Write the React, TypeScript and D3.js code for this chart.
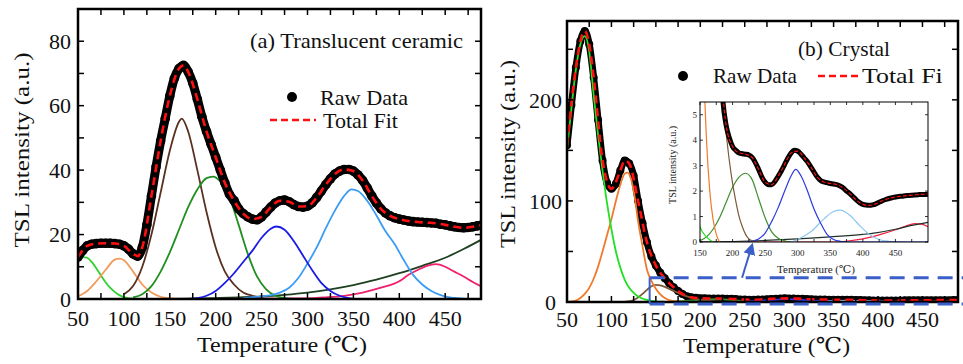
import React from "react";
import * as d3 from "d3";

type P = [number, number];

const FONT = "'Liberation Serif', 'Times New Roman', 'DejaVu Serif', serif";

// ---------- (a) Translucent ceramic ----------
const leftRaw: P[] = [
  [50, 13], [55, 15], [60, 16.5], [65, 17], [70, 17.2], [75, 17.3], [80, 17.3], [85, 17.3], [90, 17.2], [95, 17],
  [100, 16.5], [105, 15.5], [110, 14], [115, 13.3], [120, 16], [125, 23], [130, 32], [135, 41], [140, 49], [145, 56],
  [150, 63], [155, 68.5], [160, 71.5], [165, 72.5], [170, 70.5], [175, 67], [180, 62], [185, 56.5], [190, 52], [195, 48],
  [200, 44], [205, 40], [210, 36], [215, 32.5], [220, 30.5], [225, 28], [230, 26.5], [235, 25.5], [240, 24.8], [245, 24.6],
  [250, 25.5], [255, 27], [260, 28.5], [265, 29.8], [270, 30.5], [275, 30.7], [280, 30.2], [285, 29.3], [290, 28.7], [295, 28.5],
  [300, 28.8], [305, 29.8], [310, 31.5], [315, 33.5], [320, 35.5], [325, 37.3], [330, 38.8], [335, 39.7], [340, 40.2], [345, 40.2],
  [350, 39.7], [355, 38.5], [360, 36.8], [365, 34.5], [370, 32], [375, 29.8], [380, 28], [385, 26.7], [390, 25.8], [395, 25.2],
  [400, 24.8], [405, 24.5], [410, 24.2], [415, 24], [420, 23.9], [425, 23.8], [430, 23.7], [435, 23.6], [440, 23.5], [445, 23.2],
  [450, 23], [455, 22.7], [460, 22.4], [465, 22.2], [470, 22.1], [475, 22.2], [480, 22.4], [485, 22.7], [490, 23],
];
const leftFit: P[] = [
  [50, 13], [60, 16.5], [70, 17.2], [80, 17.3], [90, 17.2], [100, 16.5], [110, 14], [115, 13.3], [120, 16], [130, 32],
  [140, 49], [150, 63], [160, 71.5], [165, 72.5], [170, 70.5], [180, 62], [190, 52], [200, 44], [210, 36], [220, 30.5],
  [230, 26.5], [240, 24.8], [250, 25.5], [260, 28.5], [270, 30.5], [280, 30.2], [290, 28.7], [300, 28.8], [310, 31.5], [320, 35.5],
  [330, 38.8], [340, 40.2], [350, 39.7], [360, 36.8], [370, 32], [380, 28], [390, 25.8], [400, 24.8], [410, 24.2], [420, 23.9],
  [430, 23.7], [440, 23.5], [450, 23], [460, 22.4], [470, 22.1], [480, 22.4], [490, 23],
];
const leftLime: P[] = [
  [50, 12], [55, 13], [60, 12.8], [65, 11.5], [70, 9.5], [75, 7.3], [80, 5.2], [85, 3.5], [90, 2.2], [95, 1.2],
  [100, 0.6], [110, 0.1], [120, 0],
];
const leftOrange: P[] = [
  [50, 0.8], [60, 2.5], [70, 5.5], [80, 9], [90, 12.2], [95, 12.5], [100, 12], [110, 8.5], [120, 4.5], [130, 2],
  [140, 0.7], [150, 0.2], [160, 0],
];
const leftBrown: P[] = [
  [100, 1.5], [110, 4], [120, 10], [130, 20], [140, 33], [150, 46], [160, 55], [163, 56], [170, 52], [180, 40],
  [190, 27], [200, 16], [210, 8.5], [220, 4.5], [230, 2], [240, 1], [250, 0.3], [260, 0],
];
const leftGreen: P[] = [
  [110, 0.5], [120, 1.5], [130, 4], [140, 8.5], [150, 14.5], [160, 21.5], [170, 28.5], [180, 34], [190, 37.5], [197, 38],
  [205, 36.5], [215, 31.5], [225, 23], [235, 14], [245, 7], [255, 3], [265, 1], [275, 0.3], [290, 0],
];
const leftBlue: P[] = [
  [170, 0], [180, 0.3], [190, 1], [200, 2.5], [210, 5], [220, 8], [230, 11.5], [240, 15], [250, 19], [260, 21.8],
  [266, 22.5], [275, 21.5], [285, 18], [295, 13.5], [305, 9], [315, 5], [325, 2.5], [335, 1], [345, 0.3], [355, 0], [490, 0],
];
const leftLightBlue: P[] = [
  [230, 0.3], [250, 0.8], [260, 1.2], [270, 2], [280, 3.5], [290, 6.5], [300, 11], [310, 16], [320, 22], [330, 27.5],
  [340, 32], [348, 34], [355, 33.5], [365, 30.5], [375, 26], [385, 21], [395, 17], [405, 12], [415, 7.5], [425, 4.5],
  [435, 2.5], [445, 1.2], [455, 0.5], [465, 0.2], [480, 0], [490, 0],
];
const leftPink: P[] = [
  [200, 0], [300, 0.2], [320, 0.5], [340, 1], [360, 2], [380, 3.5], [400, 5.5], [410, 7.5], [420, 9], [430, 10.3],
  [440, 10.8], [450, 10], [460, 8.5], [470, 7], [480, 5.3], [490, 3.8],
];
const leftBackground: P[] = [
  [150, 0], [200, 0.3], [225, 0.5], [250, 0.8], [275, 1.3], [300, 2], [325, 3], [350, 4.3], [375, 6], [400, 8],
  [425, 10.3], [450, 12.8], [470, 15.5], [490, 18.5],
];

// ---------- (b) Crystal ----------
const rightRaw: P[] = [
  [50, 155], [55, 195], [60, 232], [65, 258], [70, 268], [75, 255], [80, 222], [85, 180], [90, 140], [95, 118],
  [100, 112], [105, 117], [110, 130], [115, 140], [120, 137], [125, 125], [130, 100], [135, 78], [140, 59], [145, 45],
  [150, 36], [155, 29], [160, 23.5], [165, 18.5], [170, 14.5], [175, 11], [180, 8], [185, 5.6], [190, 4.6], [195, 4.1],
  [200, 3.75], [205, 3.6], [210, 3.5], [215, 3.47], [220, 3.45], [225, 3.42], [230, 3.32], [235, 3.12], [240, 2.85], [245, 2.55],
  [250, 2.35], [255, 2.25], [260, 2.25], [265, 2.38], [270, 2.58], [275, 2.8], [280, 3.05], [285, 3.3], [290, 3.5], [295, 3.6],
  [300, 3.57], [305, 3.45], [310, 3.3], [315, 3.15], [320, 2.95], [325, 2.75], [330, 2.55], [335, 2.42], [340, 2.36], [345, 2.33],
  [350, 2.3], [355, 2.28], [360, 2.25], [365, 2.2], [370, 2.12], [375, 2.0], [380, 1.9], [385, 1.78], [390, 1.65], [395, 1.55],
  [400, 1.48], [405, 1.45], [410, 1.44], [415, 1.46], [420, 1.5], [425, 1.56], [430, 1.62], [435, 1.67], [440, 1.71], [445, 1.74],
  [450, 1.77], [455, 1.79], [460, 1.8], [465, 1.82], [470, 1.83], [475, 1.84], [480, 1.85], [485, 1.86], [490, 1.87], [495, 1.87],
  [500, 1.88],
];
const rightFit: P[] = [
  [50, 155], [60, 232], [65, 258], [70, 268], [75, 255], [80, 222], [90, 140], [100, 112], [110, 130], [115, 140],
  [120, 137], [130, 100], [140, 59], [150, 36], [160, 23.5], [170, 14.5], [180, 8], [190, 4.6], [200, 3.75], [210, 3.5],
  [220, 3.45], [230, 3.32], [240, 2.85], [250, 2.35], [260, 2.25], [270, 2.58], [280, 3.05], [290, 3.5], [300, 3.57], [310, 3.3],
  [320, 2.95], [330, 2.55], [340, 2.36], [350, 2.3], [360, 2.25], [370, 2.12], [380, 1.9], [390, 1.65], [400, 1.48], [410, 1.44],
  [420, 1.5], [430, 1.62], [440, 1.71], [450, 1.77], [460, 1.8], [470, 1.83], [480, 1.85], [490, 1.87], [500, 1.88],
];
const rightLime: P[] = [
  [50, 150], [55, 192], [60, 230], [65, 255], [70, 263], [75, 248], [80, 205], [85, 165], [90, 130], [95, 98],
  [100, 72], [105, 50], [110, 34], [115, 22], [120, 14], [125, 9], [130, 5.5], [140, 2], [150, 0.6], [160, 0.2], [170, 0],
];
const rightOrange: P[] = [
  [50, 0], [60, 1.5], [65, 4], [70, 8], [75, 14], [80, 23], [85, 35], [90, 50], [95, 66], [100, 82],
  [105, 100], [110, 116], [115, 127], [118, 128], [122, 122], [126, 105], [130, 80], [135, 55], [140, 32], [145, 21],
  [150, 13], [155, 7.5], [160, 4], [165, 2], [170, 0.9], [175, 0.3], [180, 0],
];
const rightBrown: P[] = [
  [115, 0], [120, 0.8], [125, 2], [130, 4.5], [135, 8], [140, 12], [145, 15.5], [150, 17], [155, 16.5], [160, 15],
  [165, 13], [170, 11], [175, 9], [180, 7], [185, 5.5], [190, 4.3], [195, 3.2], [200, 2.3], [205, 1.6], [210, 1],
  [215, 0.6], [220, 0.3], [225, 0.12], [230, 0.05], [240, 0],
];
const rightOlive: P[] = [
  [150, 0.05], [160, 0.2], [170, 0.5], [180, 0.95], [190, 1.55], [200, 2.15], [210, 2.55], [220, 2.7], [230, 2.45], [240, 1.7],
  [250, 0.95], [260, 0.4], [270, 0.15], [280, 0.05], [290, 0],
];
const rightBlue: P[] = [
  [220, 0], [230, 0.03], [240, 0.12], [250, 0.35], [260, 0.8], [270, 1.35], [280, 2], [290, 2.6], [297, 2.85], [305, 2.6],
  [315, 2], [325, 1.3], [335, 0.75], [345, 0.3], [355, 0.1], [365, 0.03], [380, 0], [500, 0],
];
const rightLightBlue: P[] = [
  [290, 0], [300, 0.1], [320, 0.4], [340, 0.9], [355, 1.2], [365, 1.25], [380, 1.05], [395, 0.65], [410, 0.3], [425, 0.1],
  [440, 0.03], [460, 0],
];
const rightBackground: P[] = [
  [150, 0], [200, 0.02], [250, 0.06], [300, 0.12], [320, 0.15], [350, 0.2], [400, 0.3], [420, 0.36], [450, 0.5], [475, 0.65],
  [500, 0.77],
];
const rightRed: P[] = [
  [50, 0], [350, 0], [370, 0.02], [390, 0.08], [410, 0.18], [430, 0.32], [450, 0.48], [465, 0.62], [480, 0.72], [490, 0.7],
  [500, 0.6],
];

// zoom window (data coords of panel b) and ticks
const zoomWindow = { x0: 143, y0: 0, y1: 24 };
const leftXLabels = [50, 100, 150, 200, 250, 300, 350, 400, 450];
const leftYLabels = [0, 20, 40, 60, 80];
const rightXLabels = [50, 100, 150, 200, 250, 300, 350, 400, 450];
const rightYLabels = [0, 100, 200];
const insetXLabels = [150, 200, 250, 300, 350, 400, 450];
const insetYLabels = [0, 1, 2, 3, 4, 5];

const W = 963;
const H = 364;

const xL = d3.scaleLinear().domain([50, 489]).range([78, 481]);
const yL = d3.scaleLinear().domain([0, 90]).range([299, 9]);
const xR = d3.scaleLinear().domain([50, 490]).range([567, 958]);
const yR = d3.scaleLinear().domain([0, 278]).range([302, 21]);
const xI = d3.scaleLinear().domain([150, 500]).range([700, 928]);
const yI = d3.scaleLinear().domain([0, 5.5]).range([242, 102]);

type S = d3.ScaleLinear<number, number>;

function path(x: S, y: S, data: P[]) {
  return (
    d3
      .line<P>()
      .x((d) => x(d[0]))
      .y((d) => y(d[1]))
      .curve(d3.curveMonotoneX)(data) || ""
  );
}

function Frame({ x, y, xt, yt, len, sw, tsw }: { x: S; y: S; xt: number[]; yt: number[]; len: number; sw: number; tsw: number }) {
  const [x0, x1] = x.range();
  const [y0, y1] = y.range();
  return (
    <g>
      <rect x={x0} y={y1} width={x1 - x0} height={y0 - y1} fill="none" stroke="#000" strokeWidth={sw} />
      <g stroke="#000" strokeWidth={tsw}>
        {xt.map((t) => (
          <g key={"x" + t}>
            <line x1={x(t)} x2={x(t)} y1={y0} y2={y0 - len} />
            <line x1={x(t)} x2={x(t)} y1={y1} y2={y1 + len} />
          </g>
        ))}
        {yt.map((t) => (
          <g key={"y" + t}>
            <line x1={x0} x2={x0 + len} y1={y(t)} y2={y(t)} />
            <line x1={x1} x2={x1 - len} y1={y(t)} y2={y(t)} />
          </g>
        ))}
      </g>
    </g>
  );
}

export default function App() {
  const comp = (x: S, y: S, data: P[], color: string, w = 1.8, key?: string) => (
    <path key={key} d={path(x, y, data)} fill="none" stroke={color} strokeWidth={w} />
  );
  const fitDash = "8 5";

  const leftComponents: [P[], string][] = [
    [leftBackground, "#1e4020"],
    [leftPink, "#f0206e"],
    [leftLime, "#2ed12e"],
    [leftOrange, "#f29a5a"],
    [leftBrown, "#5a3020"],
    [leftGreen, "#1f8f1f"],
    [leftLightBlue, "#3a9cf5"],
    [leftBlue, "#1a1ae6"],
  ];
  const rightComponents: [P[], string][] = [
    [rightRed, "#f02040"],
    [rightBackground, "#203028"],
    [rightOlive, "#3f8f2f"],
    [rightLightBlue, "#8cc8f0"],
    [rightBlue, "#2a3ae0"],
    [rightBrown, "#7a5a3a"],
    [rightOrange, "#f07a2a"],
    [rightLime, "#22e022"],
  ];

  const zx0 = xR(zoomWindow.x0);
  const zyTop = yR(zoomWindow.y1);
  const zyBot = yR(zoomWindow.y0) + 2;
  const serif: React.CSSProperties = { fontFamily: FONT };

  return (
    <svg
      width={W}
      height={H}
      viewBox={`0 0 ${W} ${H}`}
      style={{ position: "absolute", left: 0, top: 0, background: "#fff", fontFamily: FONT }}
    >
      <defs>
        <clipPath id="clipL">
          <rect x={78} y={9} width={403} height={290} />
        </clipPath>
        <clipPath id="clipR">
          <rect x={567} y={21} width={391} height={281} />
        </clipPath>
        <clipPath id="clipI">
          <rect x={700} y={102} width={228} height={140} />
        </clipPath>
        <clipPath id="clipLegendR">
          <rect x={800} y={55} width={142} height={40} />
        </clipPath>
        <marker id="arr" viewBox="0 0 10 10" refX="8" refY="5" markerWidth="6" markerHeight="6" orient="auto">
          <path d="M0,0 L10,5 L0,10 z" fill="#3b5fc9" />
        </marker>
      </defs>
      <rect x={0} y={0} width={W} height={H} fill="#fff" />

      {/* ---------- Panel (a) ---------- */}
      <g clipPath="url(#clipL)">
        {leftComponents.map(([d, c], i) => comp(xL, yL, d, c, 1.8, "lc" + i))}
        <path d={path(xL, yL, leftRaw)} fill="none" stroke="#000" strokeWidth={9} strokeLinejoin="round" />
        {leftRaw.map((d, i) => (
          <circle key={"lr" + i} cx={xL(d[0])} cy={yL(d[1])} r={4.8} fill="#000" />
        ))}
        <path d={path(xL, yL, leftFit)} fill="none" stroke="#ff1010" strokeWidth={2.6} strokeDasharray={fitDash} />
      </g>
      <Frame x={xL} y={yL} xt={d3.range(50, 489, 25)} yt={d3.range(0, 91, 10)} len={6} sw={2.5} tsw={1.5} />
      <g fontSize={22} fill="#111" style={serif}>
        {leftXLabels.map((t) => (
          <text key={"lx" + t} x={xL(t)} y={326} textAnchor="middle">
            {t}
          </text>
        ))}
        {leftYLabels.map((t) => (
          <text key={"ly" + t} x={71} y={yL(t)} dy="0.35em" textAnchor="end">
            {t}
          </text>
        ))}
        <text x={197} y={352} textLength={170} lengthAdjust="spacingAndGlyphs">
          Temperature (℃)
        </text>
        <text
          transform="translate(29,150) rotate(-90)"
          textAnchor="middle"
          textLength={195}
          lengthAdjust="spacingAndGlyphs"
        >
          TSL intensity (a.u.)
        </text>
        <text x={250} y={48} textLength={213} lengthAdjust="spacingAndGlyphs">
          (a) Translucent ceramic
        </text>
        <circle cx={292} cy={97} r={5} fill="#000" />
        <text x={320} y={105} fontSize={21} textLength={88} lengthAdjust="spacingAndGlyphs">
          Raw Data
        </text>
        <line x1={270} x2={316} y1={120} y2={120} stroke="#ff1010" strokeWidth={2.6} strokeDasharray="7 4" />
        <text x={323} y={128} fontSize={21} textLength={75} lengthAdjust="spacingAndGlyphs">
          Total Fit
        </text>
      </g>

      {/* ---------- Panel (b) ---------- */}
      <g clipPath="url(#clipR)">
        <path d={path(xR, yR, rightRaw)} fill="none" stroke="#000" strokeWidth={7} strokeLinejoin="round" />
        {rightRaw.map((d, i) => (
          <circle key={"rr" + i} cx={xR(d[0])} cy={yR(d[1])} r={4} fill="#000" />
        ))}
        {rightComponents.map(([d, c], i) => comp(xR, yR, d, c, 1.8, "rc" + i))}
        <path d={path(xR, yR, rightFit)} fill="none" stroke="#ff1010" strokeWidth={2.6} strokeDasharray={fitDash} />
      </g>
      <Frame x={xR} y={yR} xt={d3.range(50, 491, 25)} yt={d3.range(0, 278, 50)} len={6} sw={2.5} tsw={1.5} />
      {/* zoom window */}
      <g fill="none" stroke="#3b5fc9" strokeWidth={3} strokeDasharray="15 9">
        <line x1={zx0} x2={W} y1={zyTop} y2={zyTop} />
        <line x1={zx0} x2={W} y1={zyBot} y2={zyBot} />
        <line x1={zx0} x2={zx0} y1={zyTop} y2={zyBot} strokeDasharray="none" strokeWidth={2} />
      </g>
      <line
        x1={xR(247)}
        y1={zyTop}
        x2={xI(230)}
        y2={yI(0) + 3}
        stroke="#3b5fc9"
        strokeWidth={2}
        markerEnd="url(#arr)"
      />
      <g fontSize={22} fill="#111" style={serif}>
        {rightXLabels.map((t) => (
          <text key={"rx" + t} x={xR(t)} y={327} textAnchor="middle">
            {t}
          </text>
        ))}
        {rightYLabels.map((t) => (
          <text key={"ry" + t} x={t === 0 ? 556 : 562} y={yR(t)} dy="0.35em" textAnchor="end">
            {t}
          </text>
        ))}
        <text x={683} y={353} textLength={167} lengthAdjust="spacingAndGlyphs">
          Temperature (℃)
        </text>
        <text
          transform="translate(515,154) rotate(-90)"
          textAnchor="middle"
          textLength={188}
          lengthAdjust="spacingAndGlyphs"
        >
          TSL intensity (a.u.)
        </text>
        <text x={798} y={56} textLength={92} lengthAdjust="spacingAndGlyphs">
          (b) Crystal
        </text>
        <circle cx={683} cy={76} r={5} fill="#000" />
        <text x={713} y={83} textLength={84} lengthAdjust="spacingAndGlyphs">
          Raw Data
        </text>
        <line x1={818} x2={858} y1={76} y2={76} stroke="#ff1010" strokeWidth={2.6} strokeDasharray="7 4" />
        <g clipPath="url(#clipLegendR)">
          <text x={862} y={83} textLength={88} lengthAdjust="spacingAndGlyphs">
            Total Fit
          </text>
        </g>
      </g>

      {/* ---------- Inset ---------- */}
      <rect x={700} y={102} width={228} height={140} fill="#fff" />
      <g clipPath="url(#clipI)">
        {rightComponents.map(([d, c], i) => comp(xI, yI, d, c, 1.2, "ic" + i))}
        <path d={path(xI, yI, rightRaw)} fill="none" stroke="#000" strokeWidth={5} strokeLinejoin="round" />
        <path d={path(xI, yI, rightFit)} fill="none" stroke="#ff1010" strokeWidth={1.2} strokeDasharray="4 2" />
      </g>
      <Frame x={xI} y={yI} xt={d3.range(150, 500, 25)} yt={d3.range(0, 5.6, 1)} len={3} sw={1} tsw={0.8} />
      <g fontSize={9} fill="#222" style={serif}>
        {insetXLabels.map((t) => (
          <text key={"ix" + t} x={xI(t)} y={256} textAnchor="middle">
            {t}
          </text>
        ))}
        {insetYLabels.map((t) => (
          <text key={"iy" + t} x={697} y={yI(t)} dy="0.35em" textAnchor="end">
            {t}
          </text>
        ))}
        <text x={816} y={273} textAnchor="middle" fontSize={11}>
          Temperature (℃)
        </text>
        <text transform="translate(676,165) rotate(-90)" textAnchor="middle" fontSize={10}>
          TSL intensity (a.u.)
        </text>
      </g>
    </svg>
  );
}
